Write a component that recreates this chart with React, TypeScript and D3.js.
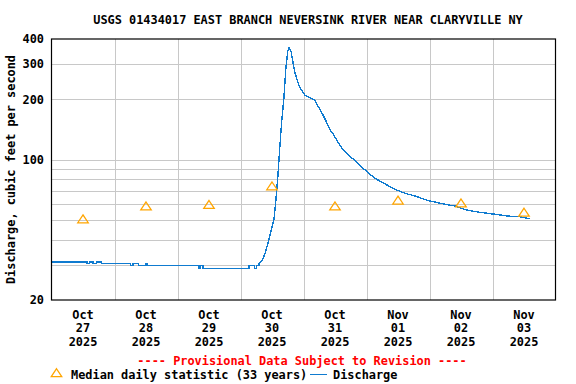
import { curveLinear, curveStepAfter, line, scaleLog, scaleTime, select, symbol, symbolTriangle, timeDay, timeFormat, timeParse } from 'd3';
import { useEffect, useRef } from 'react';

const title = 'USGS 01434017 EAST BRANCH NEVERSINK RIVER NEAR CLARYVILLE NY';
const yLabel = 'Discharge, cubic feet per second';

// 15-minute discharge (cfs)
const flowTimes = [
  '2025-10-27 00:00', '2025-10-27 13:30', '2025-10-27 14:30', '2025-10-27 15:45', '2025-10-27 17:15',
  '2025-10-27 19:00', '2025-10-28 06:00', '2025-10-28 07:00', '2025-10-28 09:15', '2025-10-28 12:00',
  '2025-10-28 12:30', '2025-10-29 08:00', '2025-10-29 08:30', '2025-10-29 09:45', '2025-10-30 03:15',
  '2025-10-30 05:15', '2025-10-30 06:00', '2025-10-30 07:00', '2025-10-30 08:15', '2025-10-30 09:15',
  '2025-10-30 10:30', '2025-10-30 11:30', '2025-10-30 12:45', '2025-10-30 13:30', '2025-10-30 14:15',
  '2025-10-30 15:00', '2025-10-30 15:45', '2025-10-30 16:30', '2025-10-30 17:15', '2025-10-30 18:00',
  '2025-10-30 18:30', '2025-10-30 19:15', '2025-10-30 20:00', '2025-10-30 20:45', '2025-10-30 21:30',
  '2025-10-30 22:15', '2025-10-30 23:30', '2025-10-31 00:30', '2025-10-31 02:30', '2025-10-31 03:15',
  '2025-10-31 04:30', '2025-10-31 05:30', '2025-10-31 06:45', '2025-10-31 07:45', '2025-10-31 09:00',
  '2025-10-31 10:00', '2025-10-31 11:30', '2025-10-31 12:45', '2025-10-31 14:15', '2025-10-31 16:15',
  '2025-10-31 17:45', '2025-10-31 20:00', '2025-10-31 22:00', '2025-10-31 23:45', '2025-11-01 01:15',
  '2025-11-01 03:30', '2025-11-01 06:15', '2025-11-01 09:00', '2025-11-01 11:30', '2025-11-01 14:45',
  '2025-11-01 18:30', '2025-11-01 23:30', '2025-11-02 02:45', '2025-11-02 06:00', '2025-11-02 09:45',
  '2025-11-02 14:00', '2025-11-02 19:15', '2025-11-03 01:00', '2025-11-03 06:00', '2025-11-03 10:30',
  '2025-11-03 13:30', '2025-11-03 14:15',
];
const flowValues = [
  31.0, 30.5, 31.0, 30.5, 31.0,
  30.5, 29.7, 30.5, 29.7, 30.5,
  29.7, 28.8, 29.7, 28.8, 29.7,
  28.8, 29.7, 30.5, 31.5, 33.8,
  38.6, 43.3, 50.5, 63.5, 83,
  117, 159, 200, 282, 348,
  362, 348, 305, 272, 252,
  235, 220, 210, 204, 202,
  197, 185, 174, 164, 152,
  142, 133, 125, 116, 108,
  104, 98, 92.4, 88.3, 84.6,
  80.5, 76.8, 73.4, 70.7, 68,
  66, 62.5, 61.3, 60, 58.8,
  56.2, 54.7, 53.5, 52.4, 52,
  51, 51,
];
// base flow is drawn as steps up to this reading, the storm as a plain line
const riseStart = '2025-10-30 07:00';

// median daily statistic (33 years), plotted at noon
const medianDays = ['2025-10-27', '2025-10-28', '2025-10-29', '2025-10-30', '2025-10-31', '2025-11-01', '2025-11-02', '2025-11-03'];
const medianValues = [50, 58, 59, 73, 58, 62, 60, 54];

const yTickValues = [20, 100, 200, 300, 400];
const yGridValues = [30, 40, 50, 60, 70, 80, 90, 100, 200, 300];

const font = '"DejaVu Sans Mono", monospace';
const fontSize = '11.9px';
const blue = '#0f7bd0';

export default function App() {
  const svgRef = useRef<SVGSVGElement>(null);

  useEffect(() => {
    if (!svgRef.current) return;
    const svg = select(svgRef.current);
    const parseTime = timeParse('%Y-%m-%d %H:%M');
    const parseDay = timeParse('%Y-%m-%d');

    const flow = flowTimes.map((t, i) => ({ date: parseTime(t) as Date, value: flowValues[i] }));
    const split = flowTimes.indexOf(riseStart);
    const baseFlow = flow.slice(0, split + 1);
    const stormFlow = flow.slice(split);
    const medians = medianDays.map((d, i) => ({
      date: new Date((parseDay(d) as Date).getTime() + 12 * 3600 * 1000),
      value: medianValues[i],
    }));

    const left = 51.5;
    const right = 555.5;
    const top = 39;
    const bottom = 300;

    const start = parseDay('2025-10-27') as Date;
    const end = parseDay('2025-11-04') as Date;
    const x = scaleTime().domain([start, end]).range([left, right]);
    const y = scaleLog().domain([20, 400]).range([bottom, top]);

    const root = svg.append('g').attr('font-family', font).attr('font-weight', 'bold').attr('font-size', fontSize);

    // grid
    const grid = root.append('g').attr('stroke', '#c8c8c8').attr('stroke-width', 1).attr('shape-rendering', 'crispEdges');
    yGridValues.forEach((v) => {
      const yy = Math.round(y(v)) + 0.5;
      grid.append('line').attr('x1', left).attr('x2', right).attr('y1', yy).attr('y2', yy);
    });
    const days = timeDay.range(timeDay.offset(start, 1), end);
    days.forEach((d) => {
      const xx = Math.round(x(d)) + 0.5;
      grid.append('line').attr('x1', xx).attr('x2', xx).attr('y1', top).attr('y2', bottom);
    });

    // discharge
    const stepLine = line<typeof flow[number]>()
      .curve(curveStepAfter)
      .x((d) => x(d.date))
      .y((d) => y(d.value));
    const plainLine = line<typeof flow[number]>()
      .curve(curveLinear)
      .x((d) => x(d.date))
      .y((d) => y(d.value));
    [
      [baseFlow, stepLine],
      [stormFlow, plainLine],
    ].forEach(([data, gen]: any) => {
      root
        .append('path')
        .datum(data)
        .attr('fill', 'none')
        .attr('stroke', blue)
        .attr('stroke-width', 1.4)
        .attr('shape-rendering', 'crispEdges')
        .attr('d', gen);
    });

    // medians
    const tri = symbol().type(symbolTriangle).size(40);
    root
      .selectAll('.median')
      .data(medians)
      .enter()
      .append('path')
      .attr('class', 'median')
      .attr('d', tri)
      .attr('transform', (d) => `translate(${x(d.date)},${y(d.value)}) scale(1.1,0.95)`)
      .attr('fill', 'none')
      .attr('stroke', '#ffa500')
      .attr('stroke-width', 1.2);

    // frame
    root
      .append('rect')
      .attr('x', left)
      .attr('y', top)
      .attr('width', right - left)
      .attr('height', bottom - top)
      .attr('fill', 'none')
      .attr('stroke', '#000')
      .attr('stroke-width', 1.2);

    // y ticks
    yTickValues.forEach((v) => {
      root
        .append('text')
        .attr('x', 44)
        .attr('y', y(v))
        .attr('dy', '0.36em')
        .attr('text-anchor', 'end')
        .text(String(v));
    });

    // x ticks (noon of each day)
    const fmtMon = timeFormat('%b');
    const fmtDay = timeFormat('%d');
    const fmtYear = timeFormat('%Y');
    timeDay.range(start, end).forEach((d) => {
      const xx = x(new Date(d.getTime() + 12 * 3600 * 1000));
      const g = root.append('text').attr('text-anchor', 'middle');
      [fmtMon(d), fmtDay(d), fmtYear(d)].forEach((s, i) => {
        g.append('tspan').attr('x', xx).attr('y', 318.5 + i * 13.5).text(s);
      });
    });

    // titles
    root.append('text').attr('x', 308).attr('y', 24).attr('text-anchor', 'middle').text(title);
    root
      .append('text')
      .attr('transform', `translate(15,${(top + bottom) / 2}) rotate(-90)`)
      .attr('text-anchor', 'middle')
      .text(yLabel);
    root
      .append('text')
      .attr('x', 302)
      .attr('y', 364.5)
      .attr('text-anchor', 'middle')
      .attr('fill', '#ff0000')
      .text('---- Provisional Data Subject to Revision ----');

    // legend
    root
      .append('path')
      .attr('d', tri)
      .attr('transform', 'translate(56.5,374) scale(1.1,0.95)')
      .attr('fill', 'none')
      .attr('stroke', '#ffa500')
      .attr('stroke-width', 1.2);
    root.append('text').attr('x', 71).attr('y', 378.5).text('Median daily statistic (33 years)');
    root
      .append('line')
      .attr('x1', 310)
      .attr('x2', 327)
      .attr('y1', 374.5)
      .attr('y2', 374.5)
      .attr('stroke', blue)
      .attr('stroke-width', 1.4)
      .attr('shape-rendering', 'crispEdges');
    root.append('text').attr('x', 333).attr('y', 378.5).text('Discharge');

    return () => {
      svg.selectAll('*').remove();
    };
  }, []);

  return (
    <svg
      ref={svgRef}
      width={576}
      height={384}
      style={{ position: 'absolute', left: 0, top: 0, background: '#fff' }}
    />
  );
}
